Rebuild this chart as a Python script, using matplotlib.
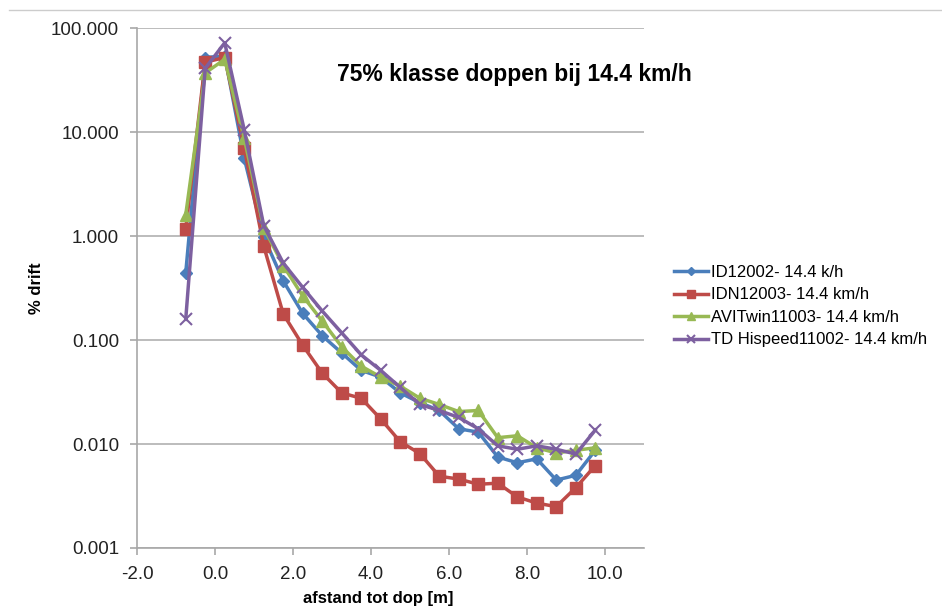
import matplotlib
matplotlib.use("Agg")
import matplotlib.pyplot as plt
from matplotlib.ticker import FixedLocator, FormatStrFormatter, NullLocator

plt.rcParams['font.family'] = ['Liberation Sans', 'DejaVu Sans']

# afstand tot dop [m]
afstand = [-0.75, -0.25, 0.25, 0.75, 1.25, 1.75, 2.25, 2.75, 3.25, 3.75, 4.25,
           4.75, 5.25, 5.75, 6.25, 6.75, 7.25, 7.75, 8.25, 8.75, 9.25, 9.75]

# % drift per nozzle
id12002 = [0.44, 52, 54, 5.6, 0.98, 0.37, 0.18, 0.11, 0.075, 0.051, 0.044,
           0.031, 0.025, 0.021, 0.014, 0.013, 0.0075, 0.0066, 0.0072, 0.0045, 0.005, 0.0087]
idn12003 = [1.17, 47, 52, 7.0, 0.80, 0.178, 0.089, 0.048, 0.031, 0.0275, 0.0174,
            0.0105, 0.0081, 0.0049, 0.0046, 0.0041, 0.0042, 0.0031, 0.0027, 0.0025, 0.0038, 0.0062]
avitwin11003 = [1.6, 37, 50, 8.7, 1.2, 0.52, 0.265, 0.152, 0.086, 0.056, 0.044,
                0.036, 0.0276, 0.024, 0.0205, 0.021, 0.0115, 0.012, 0.0092, 0.0082, 0.0087, 0.0092]
hispeed11002 = [0.158, 41, 72, 10.5, 1.26, 0.55, 0.32, 0.19, 0.117, 0.072, 0.051,
                0.035, 0.024, 0.021, 0.018, 0.014, 0.0096, 0.0089, 0.0096, 0.0089, 0.0080, 0.0136]

labels = ["ID12002- 14.4 k/h", "IDN12003- 14.4 km/h",
          "AVITwin11003- 14.4 km/h", "TD Hispeed11002- 14.4 km/h"]

y_ticks = [0.001, 0.01, 0.1, 1, 10, 100]
x_ticks = [-2, 0, 2, 4, 6, 8, 10]

fig = plt.figure(figsize=(9.42, 6.16), dpi=100)
ax = fig.add_axes([0.1454, 0.1104, 0.5383, 0.8441])

ax.plot(afstand, id12002, color='#4A7EBB', marker='D', markersize=6, lw=2.5, label=labels[0])
ax.plot(afstand, idn12003, color='#BE4B48', marker='s', markersize=8, lw=2.5, label=labels[1])
ax.plot(afstand, avitwin11003, color='#98B954', marker='^', markersize=9, lw=2.5, label=labels[2])
ax.plot(afstand, hispeed11002, color='#7D60A0', marker='x', markersize=9, mew=1.5, lw=2.5, label=labels[3])

ax.set_yscale('log')
ax.set_ylim(0.001, 100)
ax.set_xlim(-2, 11)
ax.yaxis.set_major_locator(FixedLocator(y_ticks))
ax.yaxis.set_minor_locator(NullLocator())
ax.yaxis.set_major_formatter(FormatStrFormatter('%.3f'))
ax.set_xticks(x_ticks)
ax.xaxis.set_major_formatter(FormatStrFormatter('%.1f'))

ax.grid(axis='y', color='#b0b0b0', lw=1.2)
ax.set_axisbelow(True)
for side in ['top', 'right']:
    ax.spines[side].set_visible(False)
for side in ['left', 'bottom']:
    ax.spines[side].set_color('#a8a8a8')
    ax.spines[side].set_linewidth(1.2)
ax.tick_params(axis='both', colors='#a8a8a8', labelcolor='#222222', labelsize=13.5, length=5, width=1.2)
ax.tick_params(axis='x', pad=8)
ax.tick_params(axis='y', pad=8)

ax.set_xlabel("afstand tot dop [m]", fontsize=12, fontweight='bold')
ax.xaxis.set_label_coords(0.475, -0.082)
ax.set_ylabel("% drift", fontsize=12, fontweight='bold', labelpad=5)
ax.text(0.745, 0.91, "75% klasse doppen bij 14.4 km/h", transform=ax.transAxes,
        ha='center', va='center', fontsize=16.5, fontweight='bold')

ax.legend(loc='center left', bbox_to_anchor=(1.03, 0.465), frameon=False, fontsize=12,
          handlelength=2.0, handletextpad=0.2, labelspacing=0.45, markerscale=0.7)

# thin separator line at the top of the chart
fig.add_artist(plt.Line2D([0.01, 1.0], [0.984, 0.984], color='#cccccc', lw=1.0))

fig.savefig("out.png", dpi=100, facecolor='white')
